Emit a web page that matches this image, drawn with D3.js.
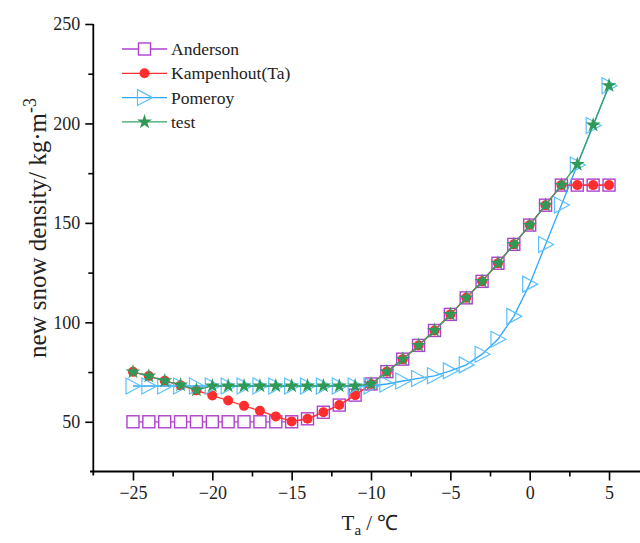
<!DOCTYPE html>
<html><head><meta charset="utf-8">
<script src="https://cdn.jsdelivr.net/npm/d3@7/dist/d3.min.js"></script>
<style>body{margin:0;background:#fff}svg{display:block}text{font-family:"Liberation Serif","Times New Roman",serif}</style>
</head><body>
<svg id="c" width="640" height="543"></svg>
<script>
const temps = d3.range(-25, 6, 1);
const anderson = [50,50,50,50,50,50,50,50,50,50,50,51.5,54.8,58.4,63.4,69,75.2,81.5,88.4,95.9,104,112.3,120.6,129.7,139.2,148.9,158.9,169,169,169,169];
const kampenhout = [75.1,73,70.6,68.3,65.8,63.2,60.7,58,55.5,52.7,50.2,51.5,54.8,58.4,63.4,69,75.2,81.5,88.4,95.9,104,112.3,120.6,129.7,139.2,148.9,158.9,169,169,169,169];
const pomeroy = [68,68,68,68,68,68,68,68,68,68,68,68,68,68,68,68,69,70.5,71.8,73.1,75.6,78.6,84,91.5,103,119.2,139.1,159,179.1,199,219];
const test = [75.1,73,70.6,68.5,66,68,68,68,68,68,68,68,68,68,68,69,75.2,81.5,88.4,95.9,104,112.3,120.6,129.7,139.2,148.9,158.9,169,179.4,199.2,219];
const seriesNames = ["Anderson","Kampenhout(Ta)","Pomeroy","test"];
const xTicks = [-25,-20,-15,-10,-5,0,5];
const xMinor = [-22.5,-17.5,-12.5,-7.5,-2.5,2.5];
const yTicks = [50,100,150,200,250];
const yMinor = [75,125,175,225];

const svg = d3.select("#c");
const x = d3.scaleLinear().domain([-27.5, 7.5]).range([93.3, 648.7]);
const y = d3.scaleLinear().domain([25, 250]).range([471.5, 24]);

const styles = [
  {color:"#b040d0", marker:"square"},
  {color:"#ff2d2d", marker:"circle"},
  {color:"#2fa8f5", mcolor:"#5cc0ff", marker:"tri"},
  {color:"#3aa06a", mcolor:"#2f9a58", marker:"star"}
];
const data = [anderson, kampenhout, pomeroy, test];

// axes
const gx = svg.append("g").attr("transform", `translate(0,${y(25)})`);
gx.call(d3.axisBottom(x).tickValues(xTicks).tickSize(9).tickPadding(6).tickFormat(d => d < 0 ? "\u2212" + Math.abs(d) : d));
gx.append("g").call(d3.axisBottom(x).tickValues(xMinor).tickSize(5).tickFormat(""));
gx.selectAll(".domain").remove();
gx.append("line").attr("x1", 90).attr("x2", 640).attr("stroke", "#000").attr("stroke-width", 1.8);
gx.selectAll(".tick line").attr("stroke-width", 1.6);
gx.selectAll(".tick text").attr("font-size", 18).attr("fill", "#222");

const gy = svg.append("g").attr("transform", `translate(${x(-27.5)},0)`);
gy.call(d3.axisLeft(y).tickValues(yTicks).tickSize(8).tickPadding(5));
gy.append("g").call(d3.axisLeft(y).tickValues(yMinor).tickSize(5).tickFormat(""));
gy.selectAll(".domain").remove();
gy.append("line").attr("y1", y(250)).attr("y2", y(25) + 4).attr("stroke", "#000").attr("stroke-width", 1.8);
gy.selectAll(".tick line").attr("stroke-width", 1.6);
gy.selectAll(".tick text").attr("font-size", 18).attr("fill", "#222");

// labels
svg.append("text").attr("transform", "translate(46,228) rotate(-90)").attr("text-anchor", "middle")
  .attr("font-size", 25).attr("fill", "#222")
  .html('new snow density/ kg·m<tspan dy="-10" font-size="18">-3</tspan>');
svg.append("text").attr("x", 370).attr("y", 530).attr("text-anchor", "middle").attr("font-size", 21).attr("fill", "#222")
  .html('T<tspan dy="5" font-size="15">a</tspan><tspan dy="-5"> / \u2103</tspan>');

function drawMarker(g, m, col, cx, cy) {
  if (m === "square") {
    g.append("rect").attr("x", cx - 6).attr("y", cy - 6).attr("width", 12).attr("height", 12)
      .attr("fill", "#fff").attr("stroke", col).attr("stroke-width", 1.4);
  } else if (m === "circle") {
    g.append("circle").attr("cx", cx).attr("cy", cy).attr("r", 5).attr("fill", col);
  } else if (m === "tri") {
    g.append("path").attr("d", `M${cx-7},${cy-8}L${cx+8},${cy}L${cx-7},${cy+8}Z`)
      .attr("fill", "none").attr("stroke", col).attr("stroke-width", 1.2);
  } else {
    g.append("path").attr("d", d3.symbol(d3.symbolStar, 70)()).attr("transform", `translate(${cx},${cy})`).attr("fill", col);
  }
}

const line = d3.line().x(d => x(d[0])).y(d => y(d[1]));
data.forEach((vals, i) => {
  const st = styles[i];
  const pts = temps.map((t, j) => [t, vals[j]]);
  const g = svg.append("g");
  g.append("path").datum(pts).attr("d", line).attr("fill", "none").attr("stroke", st.color).attr("stroke-width", 1.3);
  pts.forEach(p => drawMarker(g, st.marker, st.mcolor || st.color, x(p[0]), y(p[1])));
});

// legend
const leg = svg.append("g");
seriesNames.forEach((n, i) => {
  const st = styles[i];
  const ly = 49 + i * 24.3;
  leg.append("line").attr("x1", 122).attr("x2", 167).attr("y1", ly).attr("y2", ly).attr("stroke", st.color).attr("stroke-width", 1.3);
  drawMarker(leg, st.marker, st.mcolor || st.color, 144.5, ly);
  leg.append("text").attr("x", 171).attr("y", ly + 6).attr("font-size", 17.5).attr("fill", "#222").text(n);
});
</script>
</body></html>
